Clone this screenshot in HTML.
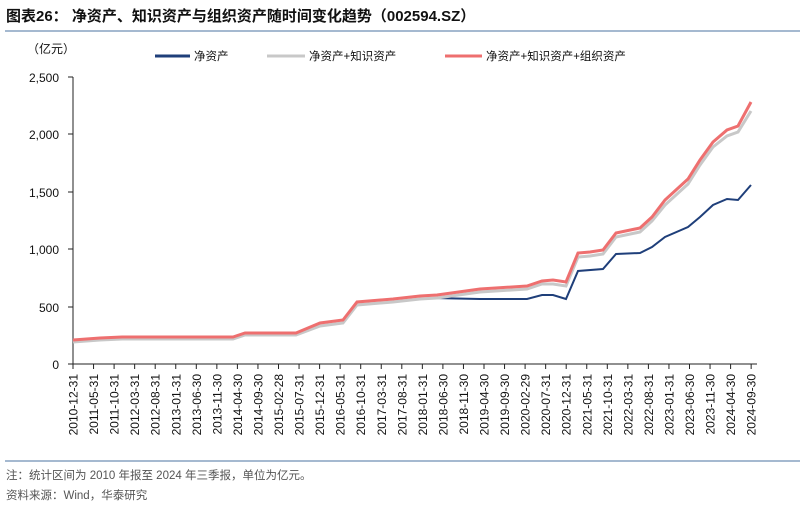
<!DOCTYPE html>
<html><head><meta charset="utf-8"><style>
body{margin:0;background:#fff;}
svg text{font-family:"Liberation Sans","Noto Sans CJK SC",sans-serif;}
</style></head><body>
<svg width="805" height="508" viewBox="0 0 805 508" xmlns="http://www.w3.org/2000/svg">
<text x="6" y="21" font-size="15" font-weight="bold" fill="#111">图表26：  净资产、知识资产与组织资产随时间变化趋势（002594.SZ）</text>
<line x1="5" y1="31" x2="800" y2="31" stroke="#6f8fb5" stroke-width="1.2"/>
<text x="27" y="53" font-size="12" fill="#111">（亿元）</text>
<line x1="155" y1="56" x2="190" y2="56" stroke="#1f3f7a" stroke-width="3"/>
<text x="194" y="60" font-size="11.5" fill="#111">净资产</text>
<line x1="267" y1="56" x2="305" y2="56" stroke="#c8c8c8" stroke-width="3"/>
<text x="309" y="60" font-size="11.5" fill="#111">净资产+知识资产</text>
<line x1="445" y1="56" x2="482" y2="56" stroke="#ee6f6f" stroke-width="3"/>
<text x="486" y="60" font-size="11.5" fill="#111">净资产+知识资产+组织资产</text>
<g font-size="12" fill="#111" text-anchor="end">
<text x="59" y="82">2,500</text><text x="59" y="139">2,000</text><text x="59" y="197">1,500</text><text x="59" y="254">1,000</text><text x="59" y="312">500</text><text x="59" y="369">0</text>
</g>
<g stroke="#222" stroke-width="1">
<line x1="73" y1="77" x2="73" y2="364"/>
<line x1="68" y1="77" x2="73" y2="77"/><line x1="68" y1="134" x2="73" y2="134"/><line x1="68" y1="192" x2="73" y2="192"/><line x1="68" y1="249" x2="73" y2="249"/><line x1="68" y1="307" x2="73" y2="307"/>
<line x1="68" y1="364" x2="757" y2="364"/>
</g>
<g id="ticks" stroke="#222"></g>
<g id="labs" font-size="12" fill="#111"></g>
<polyline fill="none" stroke="#1f3f7a" stroke-width="2" points="73,342 100,340 122,339 233,339 245,335 296,335 320,326 343,323 357,305 393,302 420,299 433,298 480,299 527,299 542,295 553,295 566,299 578,271 603,269 616,254 640,253 652,247 665,237 688,227 700,217 713,205 727,199 738,200 751,185"/>
<polyline fill="none" stroke="#c8c8c8" stroke-width="3" points="73,342 100,340 122,339 233,339 245,335 296,335 320,326 343,323 357,305 393,302 420,299 437,298 480,292 527,289 542,284 553,284 566,286 578,257 590,256 603,254 616,237 640,232 652,221 665,205 688,184 700,165 713,147 727,136 738,132 751,111"/>
<polyline fill="none" stroke="#ee6f6f" stroke-width="3" points="73,340 100,338 122,337 233,337 245,333 296,333 320,323 343,320 357,302 393,299 420,296 437,295 480,289 527,286 542,281 553,280 566,282 578,253 590,252 603,250 616,233 640,228 652,217 665,200 688,179 700,160 713,142 727,130 738,126 751,102"/>
<line x1="5" y1="461" x2="800" y2="461" stroke="#6f8fb5" stroke-width="1.2"/>
<text x="6" y="479" font-size="11.5" fill="#555">注：统计区间为 2010 年报至 2024 年三季报，单位为亿元。</text>
<text x="6" y="499" font-size="11.5" fill="#555">资料来源：Wind，华泰研究</text>
<script>
var labs=["2010-12-31","2011-05-31","2011-10-31","2012-03-31","2012-08-31","2013-01-31","2013-06-30","2013-11-30","2014-04-30","2014-09-30","2015-02-28","2015-07-31","2015-12-31","2016-05-31","2016-10-31","2017-03-31","2017-08-31","2018-01-31","2018-06-30","2018-11-30","2019-04-30","2019-09-30","2020-02-29","2020-07-31","2020-12-31","2021-05-31","2021-10-31","2022-03-31","2022-08-31","2023-01-31","2023-06-30","2023-11-30","2024-04-30","2024-09-30"];
var t=document.getElementById("ticks"),l=document.getElementById("labs"),ns="http://www.w3.org/2000/svg";
labs.forEach(function(s,i){var x=73+i*20.55;
var ln=document.createElementNS(ns,"line");ln.setAttribute("x1",x);ln.setAttribute("x2",x);ln.setAttribute("y1",364);ln.setAttribute("y2",369);t.appendChild(ln);
var tx=document.createElementNS(ns,"text");tx.setAttribute("transform","translate("+(x+4.5)+",374) rotate(-90)");tx.setAttribute("text-anchor","end");tx.textContent=s;l.appendChild(tx);});
</script>
</svg>
</body></html>
